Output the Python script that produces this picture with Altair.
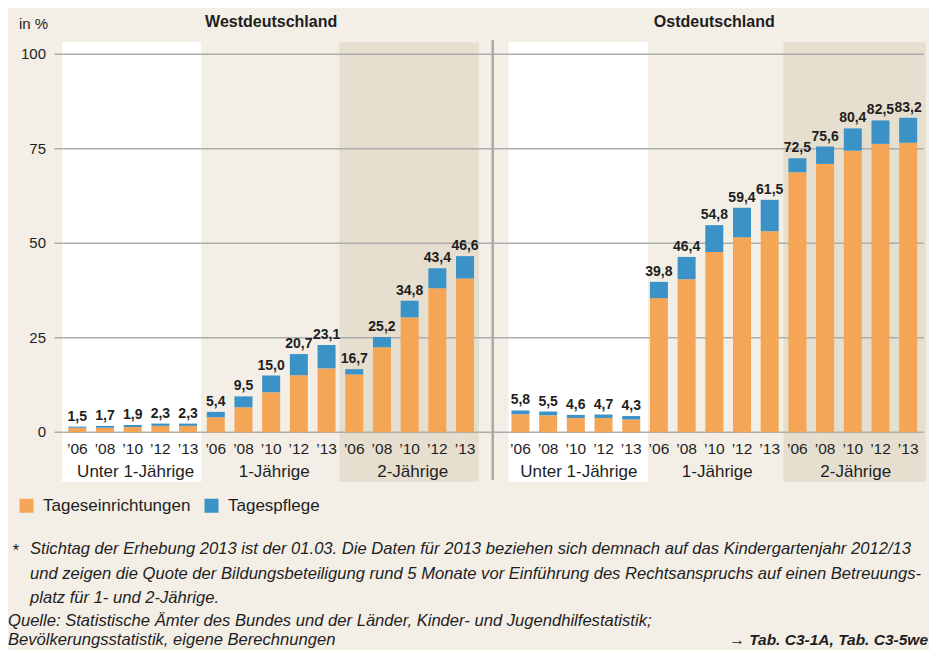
import altair as alt
import pandas as pd

# ---------------- data ----------------
panels = ["Westdeutschland", "Ostdeutschland"]
groups = ["Unter 1-Jährige", "1-Jährige", "2-Jährige"]
years = ["’06", "’08", "’10", "’12", "’13"]
series = ["Tageseinrichtungen", "Tagespflege"]

west_total = [1.5, 1.7, 1.9, 2.3, 2.3, 5.4, 9.5, 15.0, 20.7, 23.1, 16.7, 25.2, 34.8, 43.4, 46.6]
west_tage = [1.2, 1.2, 1.4, 1.7, 1.7, 4.0, 6.6, 10.6, 15.1, 16.9, 15.3, 22.5, 30.4, 38.1, 40.7]
ost_total = [5.8, 5.5, 4.6, 4.7, 4.3, 39.8, 46.4, 54.8, 59.4, 61.5, 72.5, 75.6, 80.4, 82.5, 83.2]
ost_tage = [4.8, 4.5, 3.8, 3.8, 3.4, 35.5, 40.5, 47.7, 51.6, 53.2, 68.8, 71.0, 74.5, 76.3, 76.6]
y_ticks = [0, 25, 50, 75, 100]

footnote_lines = [
    "Stichtag der Erhebung 2013 ist der 01.03. Die Daten für 2013 beziehen sich demnach auf das Kindergartenjahr 2012/13",
    "und zeigen die Quote der Bildungsbeteiligung rund 5 Monate vor Einführung des Rechtsanspruchs auf einen Betreuungs-",
    "platz für 1- und 2-Jährige.",
]
source_lines = [
    "Quelle: Statistische Ämter des Bundes und der Länder, Kinder- und Jugendhilfestatistik;",
    "Bevölkerungsstatistik, eigene Berechnungen",
]
ref_text = "→ Tab. C3-1A, Tab. C3-5we"

# ---------------- style / layout ----------------
FONT = "Liberation Sans, Arial, sans-serif"
BG = "#f3efe7"
BAND_COLORS = ["#ffffff", BG, "#e6dfd0"]
COLORS = ["#f5a556", "#3a92c6"]
TXT = "#1e1e1e"

W, H = 921, 642
X0, STEP = 65.0, 28.0        # pixel centre of slot 0, slot step
Y0, UNIT = 424.3, 3.78       # pixel of value 0, px per percent
XMIN, XMAX = -X0 / STEP, (W - X0) / STEP
YMAX, YMIN = Y0 / UNIT, (Y0 - H) / UNIT
# band edges relative to first slot of each panel (in slot units)
BAND_EDGES = [[-0.54, 4.48, 9.46, 14.5], [-0.43, 4.61, 9.5, 14.64]]

xs = alt.Scale(domain=[XMIN, XMAX], nice=False, zero=False)
ys = alt.Scale(domain=[YMIN, YMAX], nice=False, zero=False)


def slot(p, g, j):
    return 16 * p + 5 * g + j


rows, labels, bands, glabels, titles = [], [], [], [], []
for p, (tot, tage) in enumerate([(west_total, west_tage), (ost_total, ost_tage)]):
    for k in range(15):
        g, j = divmod(k, 5)
        s = slot(p, g, j)
        rows.append(dict(s=s, series=series[0], v=tage[k], o=0))
        rows.append(dict(s=s, series=series[1], v=round(tot[k] - tage[k], 2), o=1))
        labels.append(dict(s=s, total=tot[k], txt=f"{tot[k]:.1f}".replace(".", ","), year=years[j]))
    base = slot(p, 0, 0)
    e = BAND_EDGES[p]
    for g in range(3):
        bands.append(dict(x1=base + e[g], x2=base + e[g + 1], y1=103.2, y2=-13.1, c=BAND_COLORS[g]))
        glabels.append(dict(s=slot(p, g, 2), t=groups[g]))
    titles.append(dict(s=slot(p, 1, 2), t=panels[p]))

bars_df = pd.DataFrame(rows)
lab_df = pd.DataFrame(labels)
band_df = pd.DataFrame(bands)
glab_df = pd.DataFrame(glabels)
title_df = pd.DataFrame(titles)
grid_df = pd.DataFrame({"v": y_ticks, "xa": (50 - 73) / STEP, "xb": XMAX, "t": [str(t) for t in y_ticks]})
sep_df = pd.DataFrame({"s": [15.0], "ya": [103.8], "yb": [-12.6]})

band_layer = alt.Chart(band_df).mark_rect().encode(
    x=alt.X("x1:Q", scale=xs, axis=None), x2="x2:Q",
    y=alt.Y("y1:Q", scale=ys, axis=None), y2="y2:Q",
    fill=alt.Fill("c:N", scale=None),
)

grid_layer = alt.Chart(grid_df).mark_rule(color="#adadad", strokeWidth=1.5).encode(
    x=alt.X("xa:Q", scale=xs, axis=None), x2="xb:Q",
    y=alt.Y("v:Q", scale=ys, axis=None),
)

sep_layer = alt.Chart(sep_df).mark_rule(color="#a9a9a9", strokeWidth=2.5).encode(
    x=alt.X("s:Q", scale=xs, axis=None),
    y=alt.Y("ya:Q", scale=ys, axis=None), y2="yb:Q",
)

bar_layer = alt.Chart(bars_df).mark_bar(size=18).encode(
    x=alt.X("s:Q", scale=xs, axis=None),
    y=alt.Y("v:Q", scale=ys, axis=None, stack="zero"),
    order=alt.Order("o:Q"),
    color=alt.Color(
        "series:N",
        scale=alt.Scale(domain=series, range=COLORS),
        legend=alt.Legend(
            orient="none", legendX=10, legendY=489, direction="horizontal", title=None,
            symbolType="square", symbolSize=196, symbolStrokeWidth=0, symbolOpacity=1,
            labelFont=FONT, labelFontSize=17, labelColor=TXT, labelOffset=8,
            columnPadding=12, padding=0,
        ),
    ),
)

value_layer = alt.Chart(lab_df).mark_text(
    font=FONT, fontSize=14, fontWeight="bold", color=TXT, baseline="alphabetic", dy=-6
).encode(
    x=alt.X("s:Q", scale=xs, axis=None),
    y=alt.Y("total:Q", scale=ys, axis=None),
    text="txt:N",
)

year_layer = alt.Chart(lab_df).mark_text(
    font=FONT, fontSize=15.5, color=TXT, baseline="alphabetic", y=446
).encode(
    x=alt.X("s:Q", scale=xs, axis=None),
    text="year:N",
)

group_layer = alt.Chart(glab_df).mark_text(
    font=FONT, fontSize=17, color=TXT, baseline="alphabetic", y=469, dx=3
).encode(
    x=alt.X("s:Q", scale=xs, axis=None),
    text="t:N",
)

title_layer = alt.Chart(title_df).mark_text(
    font=FONT, fontSize=16, fontWeight="bold", color=TXT, baseline="alphabetic", y=19
).encode(
    x=alt.X("s:Q", scale=xs, axis=None),
    text="t:N",
)

tick_layer = alt.Chart(grid_df).mark_text(
    font=FONT, fontSize=15, color=TXT, align="right", baseline="middle", x=38
).encode(
    y=alt.Y("v:Q", scale=ys, axis=None),
    text="t:N",
)


def txt(text, x, y, **kw):
    return alt.Chart(pd.DataFrame({"t": [text]})).mark_text(
        font=FONT, color=TXT, baseline="middle", x=x, y=y, **kw
    ).encode(text="t:N")


FN = 16.6
extra = [
    txt("in %", 11, 16, fontSize=15, align="left"),
    txt("*", 4, 543, fontSize=FN, align="left", fontStyle="italic"),
]
for i, line in enumerate(footnote_lines):
    extra.append(txt(line, 22, [541, 566, 590][i], fontSize=FN, align="left", fontStyle="italic"))
for i, line in enumerate(source_lines):
    extra.append(txt(line, 0, [613, 632][i], fontSize=FN, align="left", fontStyle="italic"))
extra.append(txt(ref_text, 920, 632, fontSize=15.5, align="right", fontStyle="italic", fontWeight="bold"))

chart = alt.layer(
    band_layer, grid_layer, sep_layer, bar_layer, value_layer,
    year_layer, group_layer, title_layer, tick_layer, *extra
).properties(
    width=W, height=H, background=BG, padding=0,
    autosize=alt.AutoSizeParams(type="none"),
).configure_view(stroke=None)

chart.save("out.html", embed_options={"renderer": "svg", "actions": False})
